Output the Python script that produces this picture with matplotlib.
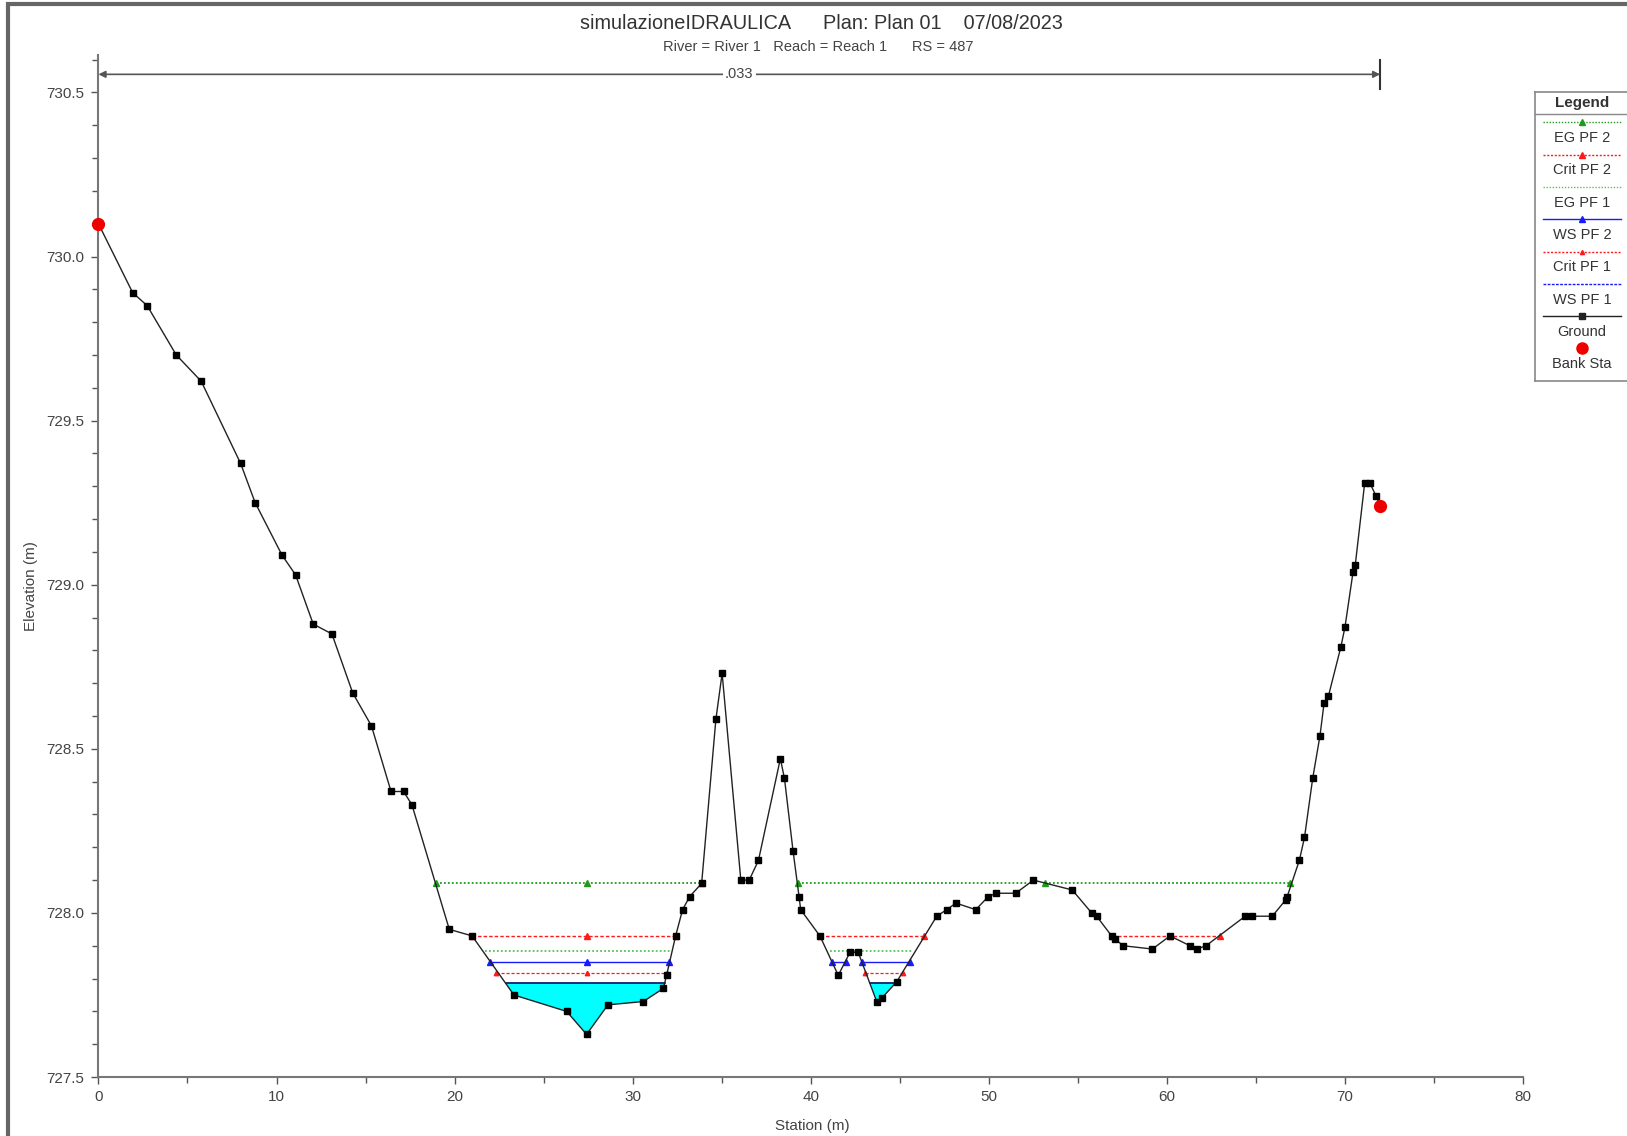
import matplotlib
matplotlib.use("Agg")
import matplotlib.pyplot as plt
import numpy as np
from matplotlib.ticker import MultipleLocator
from matplotlib.patches import Rectangle

plt.rcParams['font.family'] = ['Liberation Sans', 'DejaVu Sans']

# ground profile (station m, elevation m)
station = [0.0, 1.92, 2.74, 4.37, 5.77, 7.98, 8.80, 10.31, 11.07, 12.06, 13.11,
           14.28, 15.33, 16.43, 17.13, 17.60, 19.70, 20.98, 23.33, 26.29, 27.41,
           28.61, 30.59, 31.72, 31.90, 32.41, 32.80, 33.20, 33.87, 34.67, 35.02,
           36.07, 36.54, 37.06, 38.29, 38.52, 39.00, 39.34, 39.43, 40.51, 41.54,
           42.20, 42.66, 43.70, 43.98, 44.82, 47.07, 47.63, 48.15, 49.26, 49.97,
           50.40, 51.50, 52.50, 54.68, 55.77, 56.05, 56.89, 57.08, 57.55, 59.18,
           60.17, 61.29, 61.67, 62.19, 64.39, 64.80, 65.91, 66.67, 66.75, 67.43,
           67.72, 68.18, 68.59, 68.82, 69.06, 69.76, 69.99, 70.45, 70.57, 71.10,
           71.39, 71.74, 71.97]
elevation = [730.10, 729.89, 729.85, 729.70, 729.62, 729.37, 729.25, 729.09, 729.03,
             728.88, 728.85, 728.67, 728.57, 728.37, 728.37, 728.33, 727.95, 727.93,
             727.75, 727.70, 727.63, 727.72, 727.73, 727.77, 727.81, 727.93, 728.01,
             728.05, 728.09, 728.59, 728.73, 728.10, 728.10, 728.16, 728.47, 728.41,
             728.19, 728.05, 728.01, 727.93, 727.81, 727.88, 727.88, 727.73, 727.74,
             727.79, 727.99, 728.01, 728.03, 728.01, 728.05, 728.06, 728.06, 728.10,
             728.07, 728.00, 727.99, 727.93, 727.92, 727.90, 727.89, 727.93, 727.90,
             727.89, 727.90, 727.99, 727.99, 727.99, 728.04, 728.05, 728.16, 728.23,
             728.41, 728.54, 728.64, 728.66, 728.81, 728.87, 729.04, 729.06, 729.31,
             729.31, 729.27, 729.24]

bank_sta = [0.0, 71.97]
bank_elev = [730.10, 729.24]

# water surface profiles: level, wetted segments, marker stations
eg_pf2 = 728.09
eg_pf2_seg = [(18.94, 33.87), (39.30, 52.20), (53.15, 66.90)]
eg_pf2_mk = [18.94, 27.41, 33.87, 39.30, 53.15, 66.90]

crit_pf2 = 727.93
crit_pf2_seg = [(20.98, 32.41), (40.51, 46.35), (56.89, 62.98)]
crit_pf2_mk = [20.98, 27.41, 32.41, 40.51, 46.35, 56.89, 60.17, 62.98]

eg_pf1 = 727.885
eg_pf1_seg = [(21.70, 32.10), (41.10, 45.70)]

ws_pf2 = 727.85
ws_pf2_seg = [(21.98, 32.05), (41.17, 42.00), (42.86, 45.57)]
ws_pf2_mk = [21.98, 27.41, 32.05, 41.17, 42.00, 42.86, 45.57]

crit_pf1 = 727.818
crit_pf1_seg = [(22.35, 31.90), (43.04, 45.19)]
crit_pf1_mk = [22.35, 27.41, 31.90, 43.04, 45.19]

ws_pf1 = 727.788
ws_pf1_seg = [(22.88, 31.81), (43.30, 44.85)]

manning_n = ".033"
manning_y = 730.555

title = "simulazioneIDRAULICA      Plan: Plan 01    07/08/2023"
subtitle = "River = River 1   Reach = Reach 1      RS = 487"

green = '#1f9a1f'
red = '#ff1a1a'
blue = '#1a1aff'

fig = plt.figure(figsize=(16.27, 11.36), dpi=100)
ax = fig.add_axes([0.0605, 0.0519, 0.8757, 0.8997])

st = np.array(station)
el = np.array(elevation)

# water fill for WS PF 1
ax.fill_between(st, el, ws_pf1, where=el < ws_pf1, interpolate=True,
                color='#00ffff', zorder=1, lw=0)


def draw_level(level, segs, color, ls, lw, markers=None, mk='^', ms=4.5):
    for a, b in segs:
        ax.plot([a, b], [level, level], color=color, ls=ls, lw=lw, zorder=2)
    if markers:
        ax.plot(markers, [level] * len(markers), ls='none', marker=mk,
                color=color, ms=ms, zorder=3)


draw_level(eg_pf2, eg_pf2_seg, green, (0, (1, 1.2)), 1.3, eg_pf2_mk)
draw_level(crit_pf2, crit_pf2_seg, red, (0, (2.5, 1.5)), 1.0, crit_pf2_mk)
draw_level(eg_pf1, eg_pf1_seg, '#5cbf5c', (0, (1, 1.2)), 1.3)
draw_level(ws_pf2, ws_pf2_seg, blue, '-', 1.0, ws_pf2_mk)
draw_level(crit_pf1, crit_pf1_seg, red, (0, (2.5, 1.5)), 0.9, crit_pf1_mk, ms=3.2)
draw_level(ws_pf1, ws_pf1_seg, '#101060', '-', 1.2)

# ground
ax.plot(st, el, color='#222222', lw=1.0, marker='s', ms=4.6,
        mfc='black', mec='black', zorder=4)
ax.plot(bank_sta, bank_elev, ls='none', marker='o', ms=8.5, color='#ee0000',
        zorder=5, clip_on=False)

# manning's n span
ax.annotate('', xy=(bank_sta[0], manning_y), xytext=(bank_sta[1], manning_y),
            arrowprops=dict(arrowstyle='<|-|>', color='#555555', lw=1.2,
                            shrinkA=0, shrinkB=0, mutation_scale=10))
ax.plot([bank_sta[1], bank_sta[1]], [manning_y - 0.045, manning_y + 0.045],
        color='#333333', lw=1.5, clip_on=False)
ax.text((bank_sta[0] + bank_sta[1]) / 2, manning_y, manning_n, ha='center',
        va='center', fontsize=10.5, color='#444444',
        bbox=dict(facecolor='white', edgecolor='none', pad=1.5))

ax.set_xlim(0, 80)
ax.set_ylim(727.5, 730.614)
ax.xaxis.set_major_locator(MultipleLocator(10))
ax.xaxis.set_minor_locator(MultipleLocator(5))
ax.yaxis.set_major_locator(MultipleLocator(0.5))
ax.yaxis.set_minor_locator(MultipleLocator(0.1))
ax.yaxis.set_major_formatter(matplotlib.ticker.FormatStrFormatter('%.1f'))
for s in ['top', 'right']:
    ax.spines[s].set_visible(False)
for s in ['left', 'bottom']:
    ax.spines[s].set_color('#777777')
    ax.spines[s].set_linewidth(1.5)
ax.tick_params(which='major', length=5, width=1, colors='#555555',
               labelsize=11, labelcolor='#444444', pad=5)
ax.tick_params(which='minor', length=4, width=1, colors='#555555')
ax.tick_params(axis='x', pad=4)

fig.text(0.019, 0.484, 'Elevation (m)', rotation=90, ha='center', va='center',
         fontsize=11, color='#444444')
fig.text(0.4995, 0.009, 'Station (m)', ha='center', va='center',
         fontsize=11, color='#444444')
fig.text(0.5046, 0.979, title, ha='center', va='center', fontsize=14.3, color='#333333')
fig.text(0.503, 0.9589, subtitle, ha='center', va='center', fontsize=10.5, color='#444444')

# figure frame
fig.patches.append(Rectangle((8 / 1627, -0.05), 1.1, 1.05 - 4 / 1136,
                             transform=fig.transFigure, fill=False,
                             edgecolor='#666666', lw=3))

# legend box (HEC-RAS style)
lg = fig.add_axes([1535 / 1627, 1 - 381 / 1136, 95 / 1627, 289.3 / 1136])
lg.set_xlim(0, 95)
lg.set_ylim(381, 91.7)
lg.set_xticks([])
lg.set_yticks([])
for s in lg.spines.values():
    s.set_color('#888888')
    s.set_linewidth(1.2)
cx = 47
lg.text(cx, 102.7, 'Legend', ha='center', va='center', fontsize=11,
        fontweight='bold', color='#333333')
lg.plot([0, 95], [114, 114], color='#888888', lw=1)
entries = [
    ('EG PF 2', green, (0, (1, 1.2)), '^', 4),
    ('Crit PF 2', red, (0, (1.5, 1.2)), '^', 4),
    ('EG PF 1', '#5cbf5c', (0, (1, 1.2)), None, 0),
    ('WS PF 2', blue, '-', '^', 4),
    ('Crit PF 1', red, (0, (1.5, 1.2)), '^', 3),
    ('WS PF 1', blue, (0, (2, 1)), None, 0),
    ('Ground', '#222222', '-', 's', 4.6),
    ('Bank Sta', '#ee0000', 'none', 'o', 8),
]
for i, (name, c, ls, mk, ms) in enumerate(entries):
    ys = 122.4 + 32.3 * i
    yl = 138 + 32.3 * i
    if ls != 'none':
        lg.plot([8, 86], [ys, ys], color=c, ls=ls, lw=1)
    if mk:
        lg.plot([cx], [ys], marker=mk, color=c, ms=ms, ls='none')
    lg.text(cx, yl, name, ha='center', va='center', fontsize=10.5, color='#333333')

fig.savefig('out.png', dpi=100)
